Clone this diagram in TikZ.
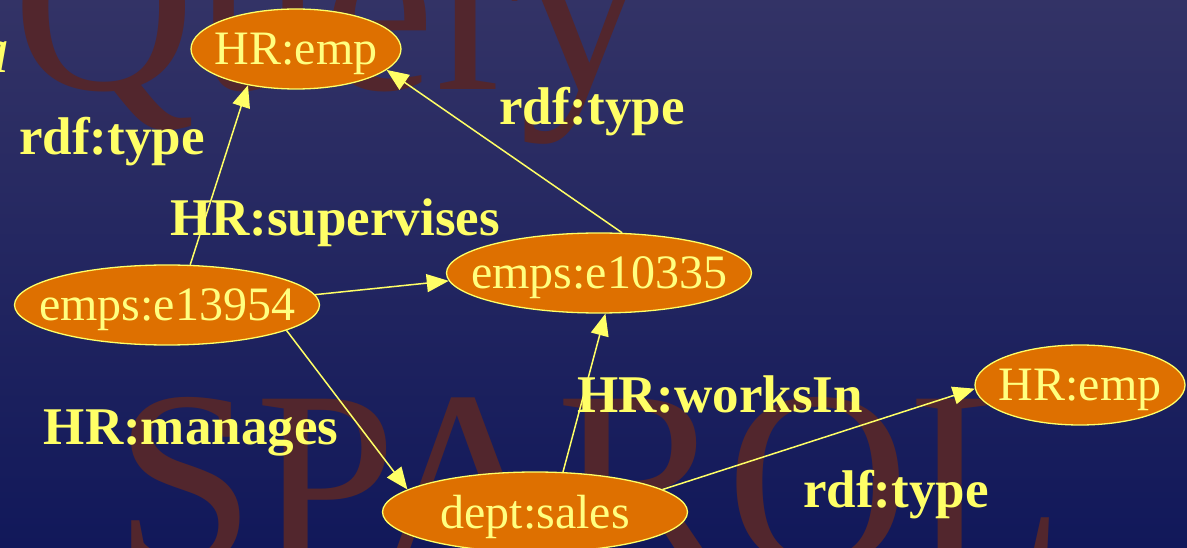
\documentclass[tikz,border=0pt]{standalone}
\usepackage{fontspec}
\setmainfont{Liberation Serif}
\usetikzlibrary{arrows.meta,shapes.geometric}
\definecolor{bgtop}{RGB}{51,51,102}
\definecolor{bgbot}{RGB}{17,24,90}
\definecolor{wm}{RGB}{82,38,45}
\definecolor{nfill}{RGB}{222,112,0}
\definecolor{yel}{RGB}{255,255,102}
\definecolor{ntext}{RGB}{255,255,128}

\begin{document}
\begin{tikzpicture}[x=1pt,y=-1pt]
      \tikzstyle{n}=[ellipse,draw=yel,line width=1.3pt,fill=nfill,text=ntext,inner xsep=-60pt,inner ysep=0pt,text depth=0pt,minimum height=80pt,font=\fontsize{48}{48}\selectfont]
      \tikzstyle{lbl}=[text=yel,anchor=base,inner sep=0pt,font=\fontsize{53}{53}\selectfont\bfseries]
      \tikzstyle{wmark}=[anchor=base west,inner sep=0pt,text=wm,font=\fontsize{254}{254}\selectfont]
      \tikzstyle{e}=[draw=yel,line width=1.5pt,-{Triangle[length=22pt,width=18pt]}]
      \useasboundingbox (0,0) rectangle (1187,548);
      \clip (0,0) rectangle (1187,548);
      \shade[top color=bgtop,bottom color=bgbot] (0,0) rectangle (1187,548);
      % background words
      \node[wmark] (wq) at (12,90) {Query};
      \node[wmark] (ws) at (114,565) {SPARQL};
      \node[anchor=base east,inner sep=0pt,text=yel,font=\fontsize{66}{66}\selectfont\itshape] (ta) at (10,73) {a};
      % resources
      \node[n,minimum width=210pt] (t) at (296,49) {HR:emp};
      \node[n,minimum width=305pt] (m) at (167,305) {emps:e13954};
      \node[n,minimum width=305pt] (s) at (599,273) {emps:e10335};
      \node[n,minimum width=305pt] (d) at (535,512) {dept:sales};
      \node[n,minimum width=210pt] (r) at (1080,385) {HR:emp};
      % properties
      \draw[e] (m.60) -- (t.217);
      \draw[e] (s.60) -- (t.-13);
      \draw[e] (m.4) -- (s.183);
      \draw[e] (m.-12) -- (d.170);
      \draw[e] (d.55) -- (s.-81);
      \draw[e] (d.10) -- (r.182);
      \node[lbl] (l1) at (112,155) {rdf:type};
      \node[lbl] (l2) at (592,125) {rdf:type};
      \node[lbl] (l3) at (335,236) {HR:supervises};
      \node[lbl] (l4) at (191,444) {HR:manages};
      \node[lbl] (l5) at (720,412) {HR:worksIn};
      \node[lbl] (l6) at (896,507) {rdf:type};
    \end{tikzpicture}
\end{document}
